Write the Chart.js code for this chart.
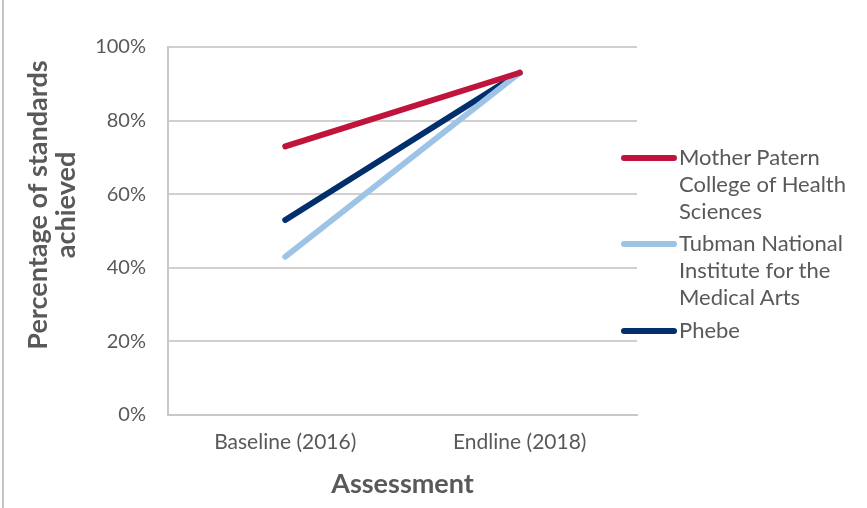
<!DOCTYPE html>
<html>
<head>
<meta charset="utf-8">
<script src="https://cdn.jsdelivr.net/npm/chart.js@4.4.1/dist/chart.umd.min.js"></script>
<style>
  html, body { margin: 0; padding: 0; background: #fff; }
  #wrap { position: relative; width: 867px; height: 508px; overflow: hidden; }
  #wrap canvas { position: absolute; left: 0; top: 0; }
  #frame { position: absolute; left: 2px; top: 0; width: 2px; height: 508px; background: #c4c4c4; }
  #legend { position: absolute; left: 621px; top: 143px; font-family: Lato, sans-serif; font-size: 22px; color: #595959; line-height: 27px; }
  .item { position: absolute; left: 0; width: 246px; }
  .swatch { position: absolute; left: 0; top: 12px; width: 56px; height: 6px; border-radius: 3px; }
  .txt { position: absolute; left: 58px; white-space: nowrap; }
</style>
</head>
<body>
<div id="wrap">
  <canvas id="chart" width="867" height="508"></canvas>
  <div id="frame"></div>
  <div id="legend"></div>
</div>
<script>
// Kategoriler ve seriler
const categories = ['Baseline (2016)', 'Endline (2018)'];
const seriesNames = [
  ['Mother Patern', 'College of Health', 'Sciences'],
  ['Tubman National', 'Institute for the', 'Medical Arts'],
  ['Phebe']
];
const motherPatern = [73, 93];
const tubman = [43, 93];
const phebe = [53, 93];
const yTicks = [0, 20, 40, 60, 80, 100];

const colors = ['#C0143C', '#9DC3E6', '#002F6C'];
const textColor = '#595959';
const fontFamily = 'Lato, sans-serif';

// Dikey eksen başlığı (iki satır) için küçük eklenti
const yTitlePlugin = {
  id: 'yTitle',
  afterDraw(chart) {
    const ctx = chart.ctx;
    ctx.save();
    ctx.translate(52, 205);
    ctx.rotate(-Math.PI / 2);
    ctx.fillStyle = textColor;
    ctx.font = 'bold 27px ' + fontFamily;
    ctx.textAlign = 'center';
    ctx.textBaseline = 'middle';
    ctx.fillText('Percentage of standards', 0, -14);
    ctx.fillText('achieved', 0, 14);
    ctx.restore();
  }
};

const datasets = [motherPatern, tubman, phebe].map((d, i) => ({
  label: seriesNames[i].join(' '),
  data: d,
  borderColor: colors[i],
  backgroundColor: colors[i],
  borderWidth: 6,
  borderCapStyle: 'round',
  pointRadius: 0,
  tension: 0
}));

new Chart(document.getElementById('chart'), {
  type: 'line',
  data: { labels: categories, datasets: datasets },
  options: {
    responsive: false,
    animation: false,
    layout: { padding: { top: 47, right: 230, left: 0, bottom: 0 } },
    plugins: { legend: { display: false }, tooltip: { enabled: false } },
    scales: {
      x: {
        offset: true,
        grid: { display: false, drawTicks: false },
        border: { color: '#c8c8c8', width: 2 },
        ticks: { color: textColor, font: { family: fontFamily, size: 21 }, padding: 15 },
        title: { display: true, text: 'Assessment', color: textColor, font: { family: fontFamily, size: 27, weight: 'bold' }, padding: { top: 0, bottom: 8 } },
        afterFit(scale) { scale.height = 93; }
      },
      y: {
        min: 0, max: 100,
        afterBuildTicks(scale) { scale.ticks = yTicks.map(v => ({ value: v })); },
        grid: { color: '#d0d0d0', lineWidth: 2, drawTicks: false },
        border: { color: '#c8c8c8', width: 2 },
        ticks: { color: textColor, font: { family: fontFamily, size: 20 }, padding: 22, callback: v => v + '%' },
        afterFit(scale) { scale.width = 168; }
      }
    }
  },
  plugins: [yTitlePlugin]
});

// Sağdaki açıklama kutusu
const legend = document.getElementById('legend');
const itemTops = [0, 86, 173];
seriesNames.forEach((lines, i) => {
  const item = document.createElement('div');
  item.className = 'item';
  item.style.top = itemTops[i] + 'px';
  const sw = document.createElement('div');
  sw.className = 'swatch';
  sw.style.background = colors[i];
  item.appendChild(sw);
  lines.forEach((t, j) => {
    const s = document.createElement('div');
    s.className = 'txt';
    s.style.top = (j * 27) + 'px';
    s.textContent = t;
    item.appendChild(s);
  });
  legend.appendChild(item);
});
</script>
</body>
</html>
